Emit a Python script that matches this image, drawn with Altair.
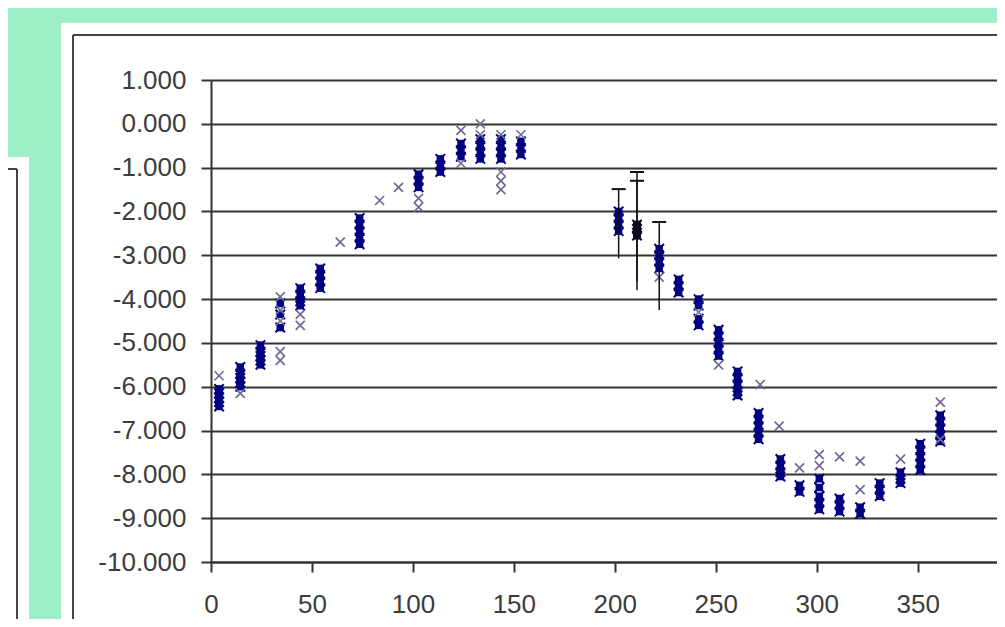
import altair as alt
import pandas as pd

# ---------------- data ----------------
# dark navy series: cluster x positions and the y values stacked at each
dark_pos = [4, 14.5, 24.5, 34.3, 44.2, 54.1, 73.6, 102.8, 113.6, 123.8, 133.4, 143.6, 153.5,
            201.9, 222, 231.6, 241.5, 251.4, 260.8, 271.2, 282, 291.5, 301.3, 311.3, 321.5,
            331.2, 341.5, 351.3, 361.2]
dark_vals = [
    [-6.05, -6.15, -6.25, -6.35, -6.45],
    [-5.55, -5.7, -5.8, -5.9, -6.0],
    [-5.05, -5.2, -5.3, -5.4, -5.5],
    [-4.1, -4.35, -4.65],
    [-3.75, -3.9, -4.05, -4.15],
    [-3.3, -3.45, -3.6, -3.75],
    [-2.15, -2.3, -2.45, -2.6, -2.75],
    [-1.15, -1.3, -1.45],
    [-0.8, -0.95, -1.1],
    [-0.45, -0.6, -0.75],
    [-0.35, -0.5, -0.65, -0.8],
    [-0.35, -0.5, -0.65, -0.8],
    [-0.4, -0.55, -0.7],
    [-2.0, -2.15, -2.3, -2.45],
    [-2.85, -3.0, -3.15, -3.3],
    [-3.55, -3.7, -3.85],
    [-4.0, -4.15, -4.45, -4.6],
    [-4.7, -4.85, -5.0, -5.15, -5.3],
    [-5.65, -5.8, -5.95, -6.1, -6.2],
    [-6.6, -6.75, -6.9, -7.05, -7.2],
    [-7.65, -7.8, -7.95, -8.05],
    [-8.25, -8.4],
    [-8.1, -8.3, -8.5, -8.65, -8.8],
    [-8.55, -8.7, -8.85],
    [-8.75, -8.9],
    [-8.2, -8.35, -8.5],
    [-7.95, -8.1, -8.2],
    [-7.3, -7.45, -7.6, -7.75, -7.9],
    [-6.65, -6.8, -6.95, -7.1, -7.25],
]

# lighter grey-blue crosses
light_x = [4, 14.5, 34.3, 34.3, 34.3, 34.3, 34.3, 44.2, 44.2, 64, 83.5, 92.9, 102.8, 102.8,
           123.8, 123.8, 133.4, 133.4, 143.6, 143.6, 143.6, 143.6, 153.5,
           222, 241.5, 251.4, 272, 281.4, 291.5, 301.3, 301.3, 311.3, 321.5, 321.5,
           341.5, 361.2, 361.2]
light_y = [-5.75, -6.15, -3.95, -4.25, -4.5, -5.2, -5.4, -4.35, -4.6, -2.7, -1.75, -1.45, -1.7, -1.9,
           -0.15, -0.9, 0.0, -0.25, -0.25, -1.1, -1.3, -1.5, -0.25,
           -3.5, -4.3, -5.5, -5.95, -6.9, -7.85, -7.55, -7.8, -7.6, -7.7, -8.35,
           -7.65, -6.35, -7.2]

# black points of the error-bar series
black_x = [211, 211, 211]
black_y = [-2.3, -2.4, -2.55]

# error bars
err_x = [201.9, 211, 211, 222]
err_lo = [-3.07, -3.8, -3.6, -4.25]
err_hi = [-1.49, -1.1, -1.3, -2.24]

x_ticks = [0, 50, 100, 150, 200, 250, 300, 350]
y_ticks = [1, 0, -1, -2, -3, -4, -5, -6, -7, -8, -9, -10]

# ---------------- tables ----------------
dark_rows = [{"x": p, "y": v} for p, vals in zip(dark_pos, dark_vals) for v in vals]
dark_df = pd.DataFrame(dark_rows)
light_df = pd.DataFrame({"x": light_x, "y": light_y})
black_df = pd.DataFrame({"x": black_x, "y": black_y})
err_df = pd.DataFrame({"x": err_x, "lo": err_lo, "hi": err_hi})

CROSS = "M-1,-1L1,1M-1,1L1,-1"
CAP = "M-1,0L1,0"
MINT = "#9FEFC6"
LINE = "#333333"
NAVY = "#000080"
LIGHT = "#6c6c98"
FONT = "Liberation Sans"

xs = alt.Scale(domain=[0, 389.3], nice=False, zero=False)
ys = alt.Scale(domain=[-10, 1], nice=False, zero=False)

x_axis = alt.Axis(values=x_ticks, grid=False, domainColor=LINE, domainWidth=2,
                  tickColor=LINE, tickWidth=2, tickSize=10, labelFont=FONT,
                  labelFontSize=26, labelColor="#3c3c3c", labelPadding=19,
                  labelFlush=False, labelOverlap=False, title=None)
y_axis = alt.Axis(values=y_ticks, grid=True, gridColor=LINE, gridWidth=2,
                  domainColor=LINE, domainWidth=2, tickColor=LINE, tickWidth=2,
                  tickSize=10, labelFont=FONT, labelFontSize=26, labelColor="#3c3c3c",
                  labelPadding=15, labelOverlap=False,
                  labelExpr="replace(format(datum.value, '.3f'), '\u2212', '-')",
                  title=None)

one = alt.Data(values=[{}])

# decorative frame (outside the plot area)
mint_top = alt.Chart(one).mark_rect(color=MINT).encode(
    x=alt.value(-210), x2=alt.value(800), y=alt.value(-80), y2=alt.value(-57))
mint_left = alt.Chart(one).mark_rect(color=MINT).encode(
    x=alt.value(-210), x2=alt.value(-150), y=alt.value(-57), y2=alt.value(77))
mint_strip = alt.Chart(one).mark_rect(color=MINT).encode(
    x=alt.value(-182), x2=alt.value(-150), y=alt.value(77), y2=alt.value(700))
frame_v = alt.Chart(one).mark_rule(color="#444444", strokeWidth=2).encode(
    x=alt.value(-138), y=alt.value(-45), y2=alt.value(700))
frame_h = alt.Chart(one).mark_rule(color="#444444", strokeWidth=2).encode(
    x=alt.value(-138), x2=alt.value(900), y=alt.value(-45))
left_v = alt.Chart(one).mark_rule(color="#444444", strokeWidth=2).encode(
    x=alt.value(-194), y=alt.value(89), y2=alt.value(700))
left_h = alt.Chart(one).mark_rule(color="#444444", strokeWidth=2).encode(
    x=alt.value(-260), x2=alt.value(-194), y=alt.value(89))

base_dark = alt.Chart(dark_df).encode(
    x=alt.X("x:Q", scale=xs, axis=x_axis),
    y=alt.Y("y:Q", scale=ys, axis=y_axis),
)
dark_sq = base_dark.mark_point(shape="square", filled=True, size=56, color=NAVY, opacity=1)
dark_cross = base_dark.mark_point(shape=CROSS, filled=False, size=90, strokeWidth=2,
                                  color=NAVY, opacity=1)

light_pts = alt.Chart(light_df).mark_point(shape=CROSS, filled=False, size=81,
                                           strokeWidth=1.7, color=LIGHT, opacity=1).encode(
    x=alt.X("x:Q", scale=xs), y=alt.Y("y:Q", scale=ys))

err_rule = alt.Chart(err_df).mark_rule(color="#111111", strokeWidth=1.5).encode(
    x=alt.X("x:Q", scale=xs), y=alt.Y("lo:Q", scale=ys), y2="hi:Q")
err_cap = alt.Chart(err_df).mark_point(shape=CAP, filled=False, size=196, strokeWidth=2,
                                       color="#111111", opacity=1).encode(
    x=alt.X("x:Q", scale=xs), y=alt.Y("hi:Q", scale=ys))

black_sq = alt.Chart(black_df).mark_point(shape="square", filled=True, size=64,
                                          color="#0a0a20", opacity=1).encode(
    x=alt.X("x:Q", scale=xs), y=alt.Y("y:Q", scale=ys))
black_cross = alt.Chart(black_df).mark_point(shape=CROSS, filled=False, size=90,
                                             strokeWidth=2, color="#0a0a20", opacity=1).encode(
    x=alt.X("x:Q", scale=xs), y=alt.Y("y:Q", scale=ys))

chart = alt.layer(
    mint_top, mint_left, mint_strip, frame_v, frame_h, left_v, left_h,
    dark_sq, dark_cross, light_pts, err_rule, err_cap, black_sq, black_cross,
).properties(
    width=786, height=482, autosize="none", background="white",
    padding={"left": 203, "top": 72, "right": 0, "bottom": 57},
).configure_view(strokeWidth=0)

chart.save("out.html", embed_options={"renderer": "svg", "actions": False})
